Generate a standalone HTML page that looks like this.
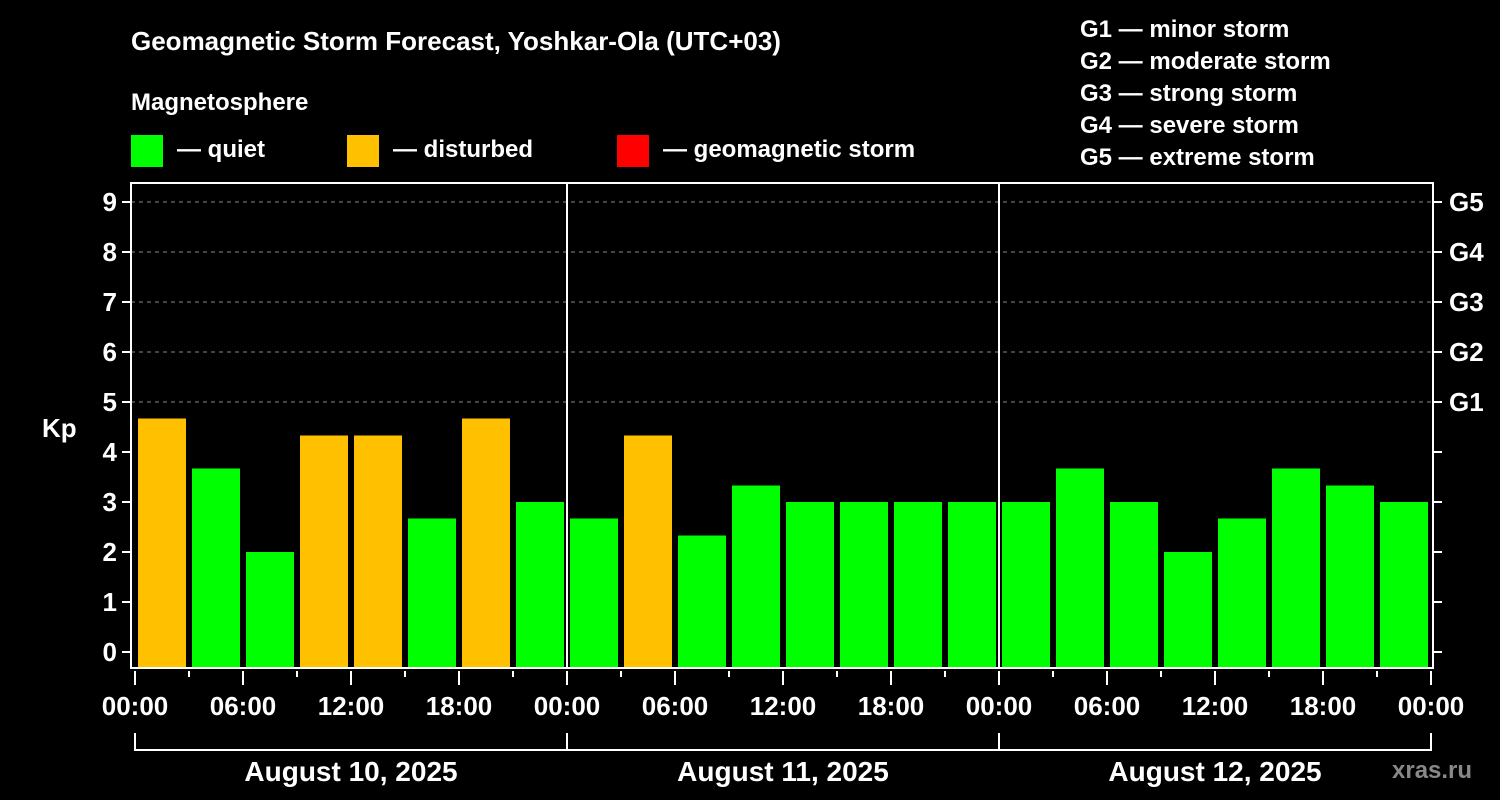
<!DOCTYPE html>
<html><head><meta charset="utf-8"><style>
body{margin:0;background:#000;}
svg{display:block;font-family:"Liberation Sans",Arial,sans-serif;font-weight:bold;}
</style></head><body>
<svg id="c" width="1500" height="800" xmlns="http://www.w3.org/2000/svg">
<rect width="1500" height="800" fill="#000"/>
<text x="131" y="50" fill="#fff" font-size="26">Geomagnetic Storm Forecast, Yoshkar-Ola (UTC+03)</text>
<text x="131" y="110" fill="#fff" font-size="24">Magnetosphere</text>
<g><rect x="131" y="135" width="32" height="32" fill="#00ff00"/><text x="177" y="157" fill="#fff" font-size="24">— quiet</text></g>
<g><rect x="347" y="135" width="32" height="32" fill="#ffc000"/><text x="393" y="157" fill="#fff" font-size="24">— disturbed</text></g>
<g><rect x="617" y="135" width="32" height="32" fill="#ff0000"/><text x="663" y="157" fill="#fff" font-size="24">— geomagnetic storm</text></g>
<g fill="#fff" font-size="24">
<text x="1080" y="37">G1 — minor storm</text>
<text x="1080" y="69">G2 — moderate storm</text>
<text x="1080" y="101">G3 — strong storm</text>
<text x="1080" y="133">G4 — severe storm</text>
<text x="1080" y="165">G5 — extreme storm</text>
</g>
<text x="42" y="437" fill="#fff" font-size="26">Kp</text>
<text x="1392" y="778" fill="#888" font-size="24">xras.ru</text>
<g id="plot"></g>
</svg>
<script>
const days=["August 10, 2025","August 11, 2025","August 12, 2025"];
const kp=[4.67,3.67,2,4.33,4.33,2.67,4.67,3, 2.67,4.33,2.33,3.33,3,3,3,3, 3,3.67,3,2,2.67,3.67,3.33,3];
const yTicks=[0,1,2,3,4,5,6,7,8,9];
const gLabels=["G1","G2","G3","G4","G5"];
const hourLabels=["00:00","06:00","12:00","18:00"];
const NS="http://www.w3.org/2000/svg";
const g=document.getElementById('plot');
const X0=135,PXH=18,L=131,R=1433,T=183,B=668;
const xh=h=>X0+h*PXH;
const y=v=>652-v*50;
function mk(t,a,p){const e=document.createElementNS(NS,t);for(const k in a)e.setAttribute(k,a[k]);(p||g).appendChild(e);return e;}
// grid
yTicks.forEach(v=>{
  if(v>=5){const l=mk('line',{x1:L,x2:R,y1:y(v),y2:y(v),stroke:'#888','stroke-dasharray':'4,4','stroke-width':1});
  
  }
  const tk=mk('line',{x1:L-9,x2:L,y1:y(v),y2:y(v),stroke:'#fff','stroke-width':2});
  
  
  const rt=mk('line',{x1:R,x2:R+9,y1:y(v),y2:y(v),stroke:'#fff','stroke-width':2});
  
  
  const tx=mk('text',{x:L-14,y:y(v)+9,fill:'#fff','font-size':26,'text-anchor':'end'});
  tx.textContent=v;
  
  
});
gLabels.forEach((s,i)=>{
  const tx=mk('text',{x:R+16,y:y(5+i)+9,fill:'#fff','font-size':26});
  tx.textContent=s;
  
  
});
// bars
kp.forEach((v,i)=>{
  const r=mk('rect',{x:xh(i*3)+3,y:y(v),width:48,height:B-y(v),fill:v>=5?'#ff0000':(v>=4?'#ffc000':'#00ff00')});
  
  
});
// frame
const fr=mk('rect',{x:L,y:T,width:R-L,height:B-T,fill:'none',stroke:'#fff','stroke-width':2});


// day separators, x ticks
for(let d=0;d<=days.length;d++){
  const xd=xh(d*24);
  if(d>0&&d<days.length){const s=mk('line',{x1:xd,x2:xd,y1:T,y2:B,stroke:'#fff','stroke-width':2});
  
  }
}
for(let h=0;h<=days.length*24;h+=3){
  const major=h%6===0;
  const t=mk('line',{x1:xh(h),x2:xh(h),y1:B+3,y2:major?B+17:B+9,stroke:'#fff','stroke-width':2});
  
  
  if(major){const tx=mk('text',{x:xh(h),y:B+47,fill:'#fff','font-size':26,'text-anchor':'middle'});
  tx.textContent=hourLabels[(h/6)%4];
  
  }
}
days.forEach((d,i)=>{
  const a=xh(i*24),b=xh((i+1)*24);
  const br=mk('path',{d:`M${a},733V750H${b}V733`,fill:'none',stroke:'#fff','stroke-width':2});
  
  
  const tx=mk('text',{x:(a+b)/2,y:781,fill:'#fff','font-size':28,'text-anchor':'middle'});
  tx.textContent=d;
  
  
});
</script>
</body></html>
